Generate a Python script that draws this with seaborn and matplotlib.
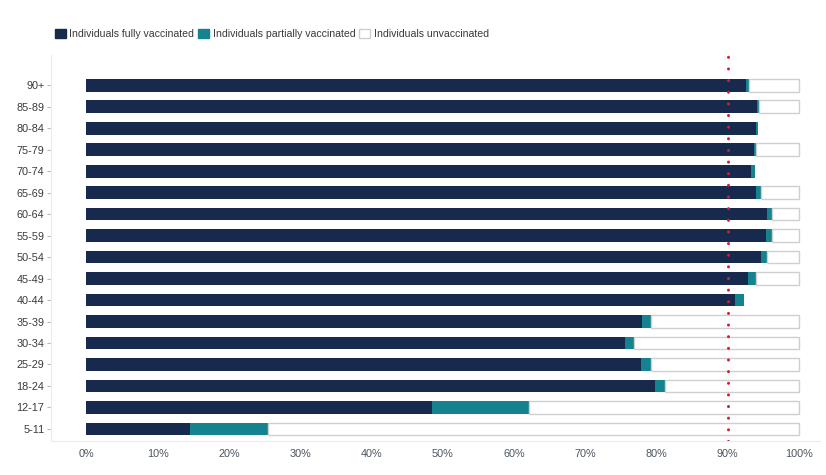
import numpy as np
import pandas as pd
import matplotlib
matplotlib.use("Agg")
import matplotlib.pyplot as plt
import seaborn as sns
from matplotlib.patches import Patch

age_groups = ["90+", "85-89", "80-84", "75-79", "70-74", "65-69", "60-64", "55-59",
              "50-54", "45-49", "40-44", "35-39", "30-34", "25-29", "18-24", "12-17", "5-11"]
fully = [92.6, 94.1, 94.0, 93.7, 93.3, 94.0, 95.5, 95.4, 94.6, 92.9, 91.0,
         77.9, 75.6, 77.8, 79.8, 48.5, 14.5]
partially = [0.4, 0.3, 0.3, 0.3, 0.5, 0.7, 0.7, 0.8, 0.9, 1.1, 1.3,
             1.3, 1.2, 1.4, 1.4, 13.6, 11.0]
unvaccinated = [7.0, 5.6, 0.0, 6.0, 0.0, 5.3, 3.8, 3.8, 4.5, 6.0, 0.0,
                20.8, 23.2, 20.8, 18.8, 37.9, 74.5]
target = 90
xticks = [0, 10, 20, 30, 40, 50, 60, 70, 80, 90, 100]
xticklabels = [f"{t}%" for t in xticks]

NAVY = "#172a4e"
TEAL = "#14838f"
EDGE = "#cfcfcf"

sns.set_theme(style="white")
plt.rcParams["font.family"] = ["Liberation Sans", "DejaVu Sans"]

df = pd.DataFrame({"age": age_groups, "fully": fully,
                   "partially": partially, "unvaccinated": unvaccinated})

fig = plt.figure(figsize=(8.26, 4.75), dpi=100)
ax = fig.add_axes([51.4 / 826, 1 - 441 / 475, (820.4 - 51.4) / 826, (441 - 55) / 475])

sns.barplot(data=df, y="age", x="fully", color=NAVY, orient="h", width=0.6,
            saturation=1, ax=ax, linewidth=0)
ypos = np.arange(len(age_groups))
ax.barh(ypos, df["partially"], left=df["fully"], height=0.6, color=TEAL, linewidth=0)
mask = df["unvaccinated"] > 0
ax.barh(ypos[mask], df["unvaccinated"][mask],
        left=(df["fully"] + df["partially"])[mask], height=0.6,
        color="white", edgecolor=EDGE, linewidth=1.0)

ax.axvline(target, color="#d21f2f", linestyle=(0, (0.01, 3.8)), linewidth=2.2,
           dash_capstyle="round", zorder=5)

ax.set_xlim(-4.9, 103)
ax.set_ylim(16.56, -1.4)
ax.set_xticks(xticks)
ax.set_xticklabels(xticklabels)
ax.set_xlabel("")
ax.set_ylabel("")
ax.tick_params(axis="y", labelsize=7.8, labelcolor="#3a3a3a", length=3, width=0.8,
               color="#bbbbbb", pad=2, left=True)
ax.tick_params(axis="x", labelsize=7.8, labelcolor="#4a5560", length=0, pad=6)
for s in ["top", "right"]:
    ax.spines[s].set_visible(False)
for s in ["left", "bottom"]:
    ax.spines[s].set_color("#ececec")
    ax.spines[s].set_linewidth(0.8)

handles = [Patch(facecolor=NAVY, edgecolor=NAVY, label="Individuals fully vaccinated"),
           Patch(facecolor=TEAL, edgecolor=TEAL, label="Individuals partially vaccinated"),
           Patch(facecolor="white", edgecolor=EDGE, label="Individuals unvaccinated")]
fig.legend(handles=handles, loc="upper left", bbox_to_anchor=(55 / 826, 1 - 29 / 475),
           ncol=3, frameon=False, fontsize=7.6, handlelength=1.0, handleheight=1.0,
           handletextpad=0.35, columnspacing=0.4, borderaxespad=0, borderpad=0,
           labelcolor="#3a3a3a")

fig.savefig("out.png", dpi=100)
